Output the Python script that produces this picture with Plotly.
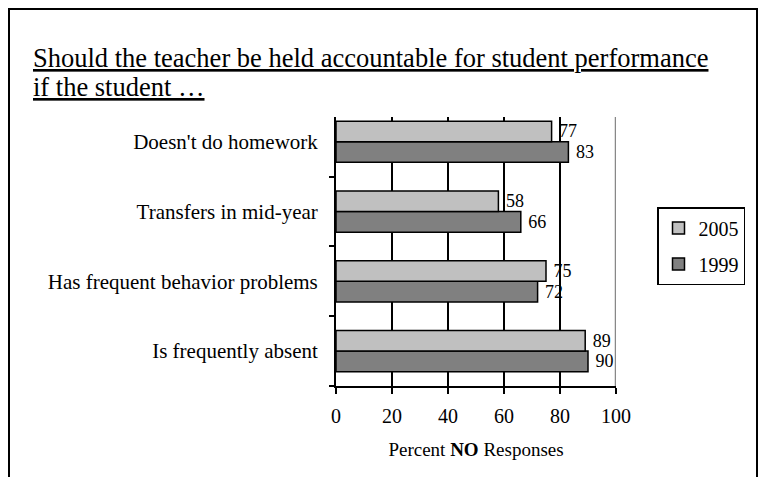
import plotly.graph_objects as go

categories = ["Is frequently absent", "Has frequent behavior problems", "Transfers in mid-year", "Doesn't do homework"]
values_1999 = [90, 72, 66, 83]
values_2005 = [89, 75, 58, 77]
x_ticks = [0, 20, 40, 60, 80, 100]

FONT = "Liberation Serif, Times New Roman, serif"

fig = go.Figure()
fig.add_trace(go.Bar(
    y=categories, x=values_1999, orientation="h", name="1999",
    marker=dict(color="#808080", line=dict(color="black", width=1.5)),
    texttemplate="\u00a0%{x}", textposition="outside", constraintext="none",
    textfont=dict(family=FONT, size=18, color="black"), cliponaxis=False,
    legendrank=2, legendgroup="b",
))
fig.add_trace(go.Bar(
    y=categories, x=values_2005, orientation="h", name="2005",
    marker=dict(color="#C0C0C0", line=dict(color="black", width=1.5)),
    texttemplate="\u00a0%{x}", textposition="outside", constraintext="none",
    textfont=dict(family=FONT, size=18, color="black"), cliponaxis=False,
    legendrank=1, legendgroup="a",
))

OFF = 8  # page body margin
L, R, T, B = 336 - OFF, 616 - OFF, 117 - OFF, 386 - OFF
W, H = 767 - OFF, 477 - OFF
pw, ph = R - L, B - T

def px_x(p):
    return (p - OFF - L) / pw

def px_y(p):
    return (B - (p - OFF)) / ph

fig.update_layout(
    width=W, height=H,
    margin=dict(l=L, r=W - R, t=T, b=H - B, autoexpand=False),
    paper_bgcolor="white", plot_bgcolor="white",
    barmode="group", bargap=0.41, bargroupgap=0,
    font=dict(family=FONT, color="black"),
    showlegend=True,
    legend=dict(
        x=px_x(657), y=px_y(207), xanchor="left", yanchor="top",
        traceorder="grouped", tracegroupgap=7,
        bordercolor="black", borderwidth=1.5, bgcolor="white",
        font=dict(family=FONT, size=20, color="black"),
    ),
    xaxis=dict(
        range=[0, 100], tickvals=x_ticks, ticktext=[str(v) for v in x_ticks],
        showgrid=True, gridcolor="black", gridwidth=1.5,
        showline=True, linecolor="black", linewidth=2,
        ticks="outside", ticklen=6, tickwidth=1.5, tickcolor="black",
        ticklabelstandoff=5,
        tickfont=dict(family=FONT, size=20, color="black"),
        zeroline=False,
        title=dict(text="Percent <b>NO</b> Responses", font=dict(family=FONT, size=19, color="black"), standoff=17),
    ),
    yaxis=dict(
        type="category", categoryorder="array", categoryarray=categories,
        range=[-0.5, 3.355],
        showgrid=False, showline=True, linecolor="black", linewidth=2,
        ticks="outside", ticklen=5, tickwidth=1.5, tickcolor="black",
        tickson="boundaries", ticklabelstandoff=12,
        tickfont=dict(family=FONT, size=21, color="black"),
        zeroline=False,
    ),
    shapes=[
        dict(type="line", xref="x", yref="paper", x0=100, x1=100, y0=0, y1=1,
             line=dict(color="#888888", width=2.5), layer="above"),
        dict(type="rect", xref="paper", yref="paper",
             x0=px_x(9), x1=px_x(757), y0=px_y(560), y1=px_y(9),
             line=dict(color="black", width=2), layer="below"),
    ],
    annotations=[
        dict(text="<u>Should the teacher be held accountable for student performance</u>",
             xref="paper", yref="paper", x=px_x(31), y=px_y(75), xanchor="left", yanchor="bottom",
             showarrow=False, font=dict(family=FONT, size=26.5, color="black")),
        dict(text="<u>if the student …</u>",
             xref="paper", yref="paper", x=px_x(31), y=px_y(104), xanchor="left", yanchor="bottom",
             showarrow=False, font=dict(family=FONT, size=26.5, color="black")),
    ],
)

fig.write_html("out.html")
